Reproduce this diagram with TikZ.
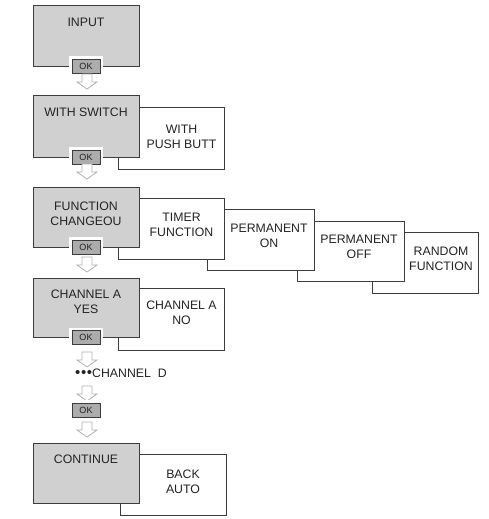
\documentclass[tikz,border=0pt]{standalone}
\usepackage{fontspec}
\setmainfont{Liberation Sans}
\definecolor{boxgray}{RGB}{208,208,208}
\definecolor{okgray}{RGB}{172,172,172}
\definecolor{edge}{RGB}{60,60,60}
\definecolor{arrowgray}{RGB}{178,178,178}
\definecolor{txt}{RGB}{35,35,35}
\tikzset{
  mainbox/.style={rectangle, draw=edge, fill=boxgray, line width=0.8pt, minimum width=106pt, inner sep=0pt},
  sidebox/.style={rectangle, draw=edge, fill=white, line width=0.8pt, inner sep=0pt},
  lbl/.style={font=\fontsize{12.3}{15}\selectfont, text=txt, align=center, inner sep=0pt},
  okbtn/.style={rectangle, draw=edge, fill=okgray, line width=0.7pt, minimum width=28pt, minimum height=14pt, inner sep=0pt,
    font=\fontsize{9}{9}\selectfont, text=txt, preaction={draw=white, line width=6pt}},
  downarrow/.pic={\draw[draw=arrowgray, fill=white, line width=0.8pt, line join=miter]
    (-5,0) -- (5,0) -- (5,8) -- (10,8) -- (0,15) -- (-10,8) -- (-5,8) -- cycle;}
}
\begin{document}
\begin{tikzpicture}[x=1pt,y=-1pt]
\useasboundingbox (0,0) rectangle (488,519);

% ---- row 1
\node[mainbox, minimum height=61pt] (b1) at (86,35.5) {};
\node[lbl, anchor=north] (t1) at (86,18) {INPUT};
\node[okbtn] (ok1) at (86,66) {OK};
\pic (a1) at (87,74) {downarrow};

% ---- row 2
\node[sidebox, minimum width=106pt, minimum height=62pt] (s2) at (171,138) {};
\node[mainbox, minimum height=62pt] (b2) at (86,126) {};
\node[lbl, anchor=north] (t2) at (86,108) {WITH SWITCH};
\node[lbl] (st2) at (181.5,137) {WITH\\PUSH BUTT};
\node[okbtn] (ok2) at (86,157) {OK};
\pic (a2) at (87,164) {downarrow};

% ---- row 3
\node[sidebox, minimum width=106pt, minimum height=61pt] (s3d) at (425,262.5) {};
\node[lbl] (st3d) at (441,259) {RANDOM\\FUNCTION};
\node[sidebox, minimum width=107pt, minimum height=60pt] (s3c) at (350.5,251) {};
\node[lbl] (st3c) at (359,246.5) {PERMANENT\\OFF};
\node[sidebox, minimum width=107pt, minimum height=61pt] (s3b) at (260.5,239.5) {};
\node[lbl] (st3b) at (269,236) {PERMANENT\\ON};
\node[sidebox, minimum width=106pt, minimum height=61pt] (s3a) at (171,228.5) {};
\node[lbl] (st3a) at (181.5,224.5) {TIMER\\FUNCTION};
\node[mainbox, minimum height=60pt] (b3) at (86,217) {};
\node[lbl, anchor=north] (t3) at (86,202) {FUNCTION\\CHANGEOU};
\node[okbtn] (ok3) at (86,247) {OK};
\pic (a3) at (87,257) {downarrow};

% ---- row 4
\node[sidebox, minimum width=106pt, minimum height=62pt] (s4) at (171,319) {};
\node[lbl] (st4) at (181.5,313) {CHANNEL A\\NO};
\node[mainbox, minimum height=59pt] (b4) at (86,307.5) {};
\node[lbl, anchor=north] (t4) at (86,290) {CHANNEL A\\YES};
\node[okbtn] (ok4) at (86,337.5) {OK};
\pic (a4) at (87,352) {downarrow};

% ---- channel D
\node[lbl, anchor=base west] (chd) at (75,377) {{\fontsize{15}{15}\selectfont •\kern0.6pt•\kern0.6pt•}CHANNEL\ \ D};
\pic (a5) at (87,386) {downarrow};
\node[okbtn] (ok5) at (86,410) {OK};
\pic (a6) at (87,422) {downarrow};

% ---- row 5
\node[sidebox, minimum width=106pt, minimum height=61pt] (s5) at (173,484.5) {};
\node[lbl] (st5) at (183,481.5) {BACK\\AUTO};
\node[mainbox, minimum height=60pt] (b5) at (86,473) {};
\node[lbl, anchor=north] (t5) at (86,455) {CONTINUE};
\end{tikzpicture}
\end{document}
